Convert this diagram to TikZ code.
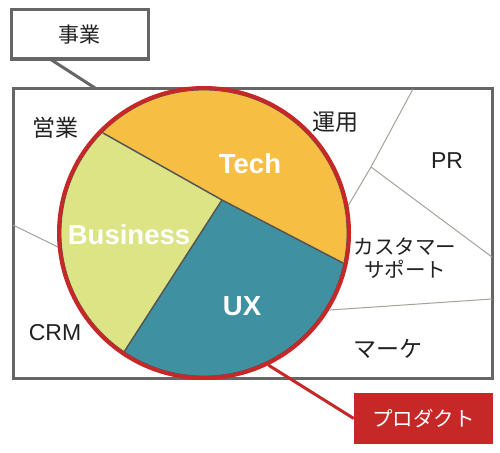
\documentclass[tikz,border=0pt]{standalone}
\usepackage{fontspec}
\setmainfont{Liberation Sans}
\newfontfamily\jpfont{Noto Sans CJK JP}
\usepackage{xcolor}
\definecolor{cFrame}{HTML}{666666}
\definecolor{cRed}{HTML}{C62828}
\definecolor{cTech}{HTML}{F6BF44}
\definecolor{cBiz}{HTML}{DCE486}
\definecolor{cUX}{HTML}{3F91A2}
\definecolor{cEdge}{HTML}{555555}
\definecolor{cLine}{HTML}{A3A39B}
\definecolor{cText}{HTML}{222222}
\usetikzlibrary{positioning,calc}
\tikzset{
  frame-box/.style={draw=cFrame,line width=3pt,fill=white,inner sep=0pt},
  frame-line/.style={draw=cFrame,line width=3pt},
  part-line/.style={draw=cLine,line width=1pt},
  sector-line/.style={draw=cEdge,line width=1.5pt},
  label-jp/.style={font=\jpfont\fontsize{23}{25}\selectfont,text=cText,align=center},
  label-en/.style={font=\fontsize{23}{25}\selectfont,text=cText},
  label-sector/.style={font=\bfseries\fontsize{27.5}{30}\selectfont,text=white},
  pie-ring/.style={circle,draw=cRed,line width=4pt,inner sep=0pt},
  pie-inner/.style={draw=cEdge,line width=0.8pt},
  product-box/.style={fill=cRed,text=white,inner sep=0pt,
    font=\jpfont\fontsize{20.5}{22}\selectfont},
  product-line/.style={draw=cRed,line width=3pt},
}

\begin{document}
\begin{tikzpicture}[x=1pt,y=-1pt]
  \useasboundingbox (0,0) rectangle (500,452);
  % 事業の枠
  \node[frame-box,minimum width=479pt,minimum height=290pt] (area) at (252.5,233) {};
  \node[frame-box,minimum width=137pt,minimum height=49pt,label-jp,
    font=\jpfont\fontsize{21}{23}\selectfont] (jigyo) at (79.5,34.5) {事業};
  \coordinate (jigyo-tail) at (50,59);
  \coordinate (area-top) at (95,88);
  \draw[frame-line] (jigyo-tail) -- (area-top);
  % 区切り線
  \coordinate (ops-top) at (413,89);
  \coordinate (ops-mid) at (371,167);
  \coordinate (ops-end) at (348,206);
  \coordinate (pr-end) at (492,257);
  \coordinate (cs-start) at (330,310);
  \coordinate (cs-end) at (492,299);
  \coordinate (crm-start) at (13,225);
  \coordinate (crm-end) at (62,249);
  \draw[part-line] (ops-top) -- (ops-mid) -- (ops-end);
  \draw[part-line] (ops-mid) -- (pr-end);
  \draw[part-line] (cs-start) -- (cs-end);
  \draw[part-line] (crm-start) -- (crm-end);
  % 円グラフ
  \coordinate (hub) at (222,200);
  \coordinate (cut-a) at (103,133);
  \coordinate (cut-b) at (343,263);
  \coordinate (cut-c) at (124,352);
  \begin{scope}
    \clip (204,233) circle (145);
    \fill[cTech] (204,233) circle (145);
    \fill[cBiz] (hub) -- ($(hub)!2!(cut-a)$) -- (-16,504) -- ($(hub)!2!(cut-c)$) -- cycle;
    \fill[cUX] (hub) -- ($(hub)!2!(cut-c)$) -- (464,504) -- ($(hub)!2!(cut-b)$) -- cycle;
    \draw[sector-line] (hub) -- (cut-a);
    \draw[sector-line] (hub) -- (cut-b);
    \draw[sector-line] (hub) -- (cut-c);
  \end{scope}
  \draw[pie-inner] (204,233) circle (143);
  \node[pie-ring,minimum size=290pt] (pie) at (204,233) {};
  % ラベル
  \node[label-sector] (tech) at (250,164) {Tech};
  \node[label-sector] (business) at (129,235) {Business};
  \node[label-sector] (ux) at (242,306) {UX};
  \node[label-jp] (sales) at (55,128) {営業};
  \node[label-jp] (ops) at (335,122) {運用};
  \node[label-en] (pr) at (447,161) {PR};
  \node[label-jp,font=\jpfont\fontsize{20.5}{23}\selectfont] (support) at (405,258) {カスタマー\\サポート};
  \node[label-en] (crm) at (55,333) {CRM};
  \node[label-jp] (mkt) at (388,349) {マーケ};
  % プロダクト
  \node[product-box,minimum width=139pt,minimum height=51pt] (product) at (423.5,418.5) {プロダクト};
  \draw[product-line] (pie.-64) -- (product.west);
\end{tikzpicture}
\end{document}
